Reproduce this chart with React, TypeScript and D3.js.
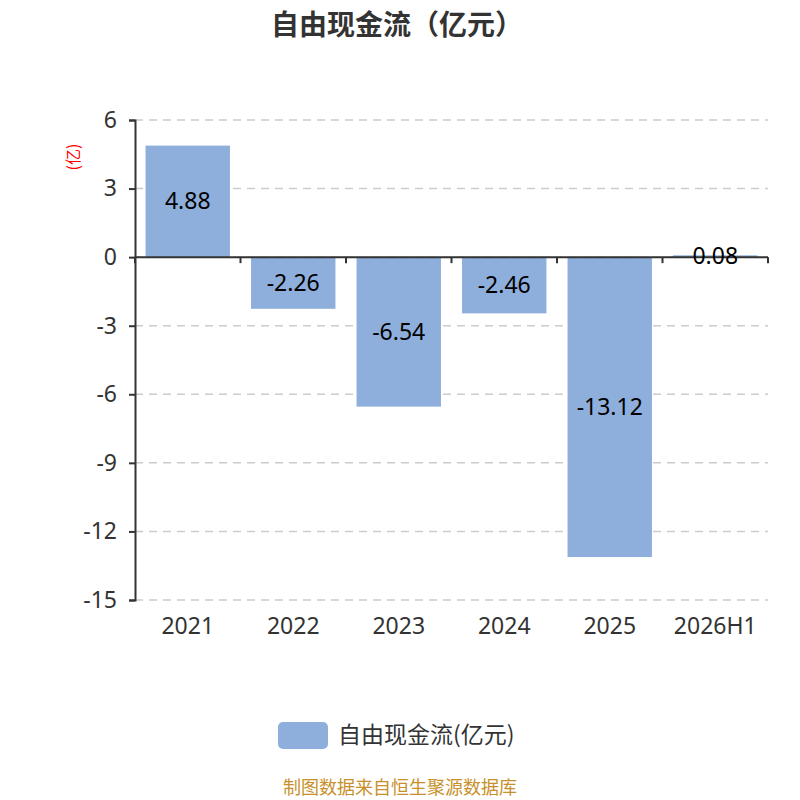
import * as d3 from "d3";
import React from "react";

const categories = ["2021", "2022", "2023", "2024", "2025", "2026H1"];
const values = [4.88, -2.26, -6.54, -2.46, -13.12, 0.08];
const yTicks = [6, 3, 0, -3, -6, -9, -12, -15];
const seriesName = "自由现金流(亿元)";

const FONT = "'Noto Sans', 'Noto Sans CJK SC', sans-serif";
const CJK = "'Noto Sans CJK SC', sans-serif";

export default function App() {
  const ref = React.useRef<SVGSVGElement>(null);

  React.useEffect(() => {
    if (!ref.current) return;
    const svg = d3.select(ref.current);
    svg.selectAll("*").remove();

    const margin = { left: 135, right: 32, top: 120, bottom: 200 };
    const W = 800;
    const H = 800;

    const x = d3
      .scaleBand<string>()
      .domain(categories)
      .range([margin.left, W - margin.right])
      .paddingInner(0.2)
      .paddingOuter(0.1);
    const band = d3
      .scaleBand<string>()
      .domain(categories)
      .range([margin.left, W - margin.right]);
    const y = d3.scaleLinear().domain([-15, 6]).range([H - margin.bottom, margin.top]);

    // 标题
    svg
      .append("text")
      .attr("x", 397)
      .attr("y", 35)
      .attr("text-anchor", "middle")
      .attr("font-size", 28)
      .attr("font-weight", "bold")
      .attr("fill", "#333")
      .attr("font-family", CJK)
      .text("自由现金流（亿元）");

    // 网格线
    svg
      .append("g")
      .selectAll("line")
      .data(yTicks)
      .enter()
      .append("line")
      .attr("x1", margin.left)
      .attr("x2", W - margin.right)
      .attr("y1", (d) => y(d))
      .attr("y2", (d) => y(d))
      .attr("stroke", "#ccc")
      .attr("stroke-width", 1.5)
      .attr("stroke-dasharray", "8,6");

    // Y轴
    const yAxis = svg
      .append("g")
      .attr("transform", `translate(${margin.left},0)`)
      .call(d3.axisLeft(y).tickValues(yTicks).tickSize(6).tickPadding(12).tickFormat((d) => `${d}`));
    yAxis.select(".domain").attr("stroke", "#333").attr("stroke-width", 2);
    yAxis.selectAll(".tick line").attr("stroke", "#333").attr("stroke-width", 2);
    yAxis
      .selectAll("text")
      .attr("font-size", 23)
      .attr("fill", "#333")
      .attr("font-family", FONT);

    // 单位
    svg
      .append("text")
      .attr("transform", `translate(79,157) rotate(-90)`)
      .attr("text-anchor", "middle")
      .attr("font-size", 16)
      .attr("fill", "red")
      .attr("font-family", CJK)
      .text("(亿)");

    // 柱子
    svg
      .append("g")
      .selectAll("rect")
      .data(values)
      .enter()
      .append("rect")
      .attr("x", (_, i) => x(categories[i]) || 0)
      .attr("width", x.bandwidth())
      .attr("y", (d) => y(Math.max(0, d)))
      .attr("height", (d) => Math.abs(y(d) - y(0)))
      .attr("fill", "#8eaedb");

    // X轴（零线）
    const zero = y(0);
    svg
      .append("line")
      .attr("x1", margin.left)
      .attr("x2", W - margin.right)
      .attr("y1", zero)
      .attr("y2", zero)
      .attr("stroke", "#333")
      .attr("stroke-width", 2);
    const boundaries = categories.map((c) => band(c) || 0).concat([W - margin.right]);
    svg
      .append("g")
      .selectAll("line")
      .data(boundaries)
      .enter()
      .append("line")
      .attr("x1", (d) => d)
      .attr("x2", (d) => d)
      .attr("y1", zero)
      .attr("y2", zero + 6)
      .attr("stroke", "#333")
      .attr("stroke-width", 2);

    // X轴标签
    svg
      .append("g")
      .selectAll("text")
      .data(categories)
      .enter()
      .append("text")
      .attr("x", (d) => (band(d) || 0) + band.bandwidth() / 2)
      .attr("y", 634)
      .attr("text-anchor", "middle")
      .attr("font-size", 23)
      .attr("fill", "#333")
      .attr("font-family", FONT)
      .text((d) => d);

    // 数值标签
    svg
      .append("g")
      .selectAll("text")
      .data(values)
      .enter()
      .append("text")
      .attr("x", (_, i) => (x(categories[i]) || 0) + x.bandwidth() / 2)
      .attr("y", (d) => (y(d) + y(0)) / 2)
      .attr("dy", "0.35em")
      .attr("text-anchor", "middle")
      .attr("font-size", 23)
      .attr("fill", "#000")
      .attr("font-family", FONT)
      .text((d) => d.toFixed(2));

    // 图例
    svg
      .append("rect")
      .attr("x", 278)
      .attr("y", 722)
      .attr("width", 50)
      .attr("height", 27)
      .attr("rx", 5)
      .attr("fill", "#8eaedb");
    svg
      .append("text")
      .attr("x", 338)
      .attr("y", 743)
      .attr("font-size", 23)
      .attr("fill", "#333")
      .attr("font-family", CJK)
      .text(seriesName);

    // 数据来源
    svg
      .append("text")
      .attr("x", 400)
      .attr("y", 794)
      .attr("text-anchor", "middle")
      .attr("font-size", 18)
      .attr("fill", "#c8902a")
      .attr("font-family", CJK)
      .text("制图数据来自恒生聚源数据库");
  }, []);

  return (
    <svg
      ref={ref}
      width={800}
      height={800}
      style={{ position: "absolute", left: 0, top: 0, background: "#fff" }}
    />
  );
}
